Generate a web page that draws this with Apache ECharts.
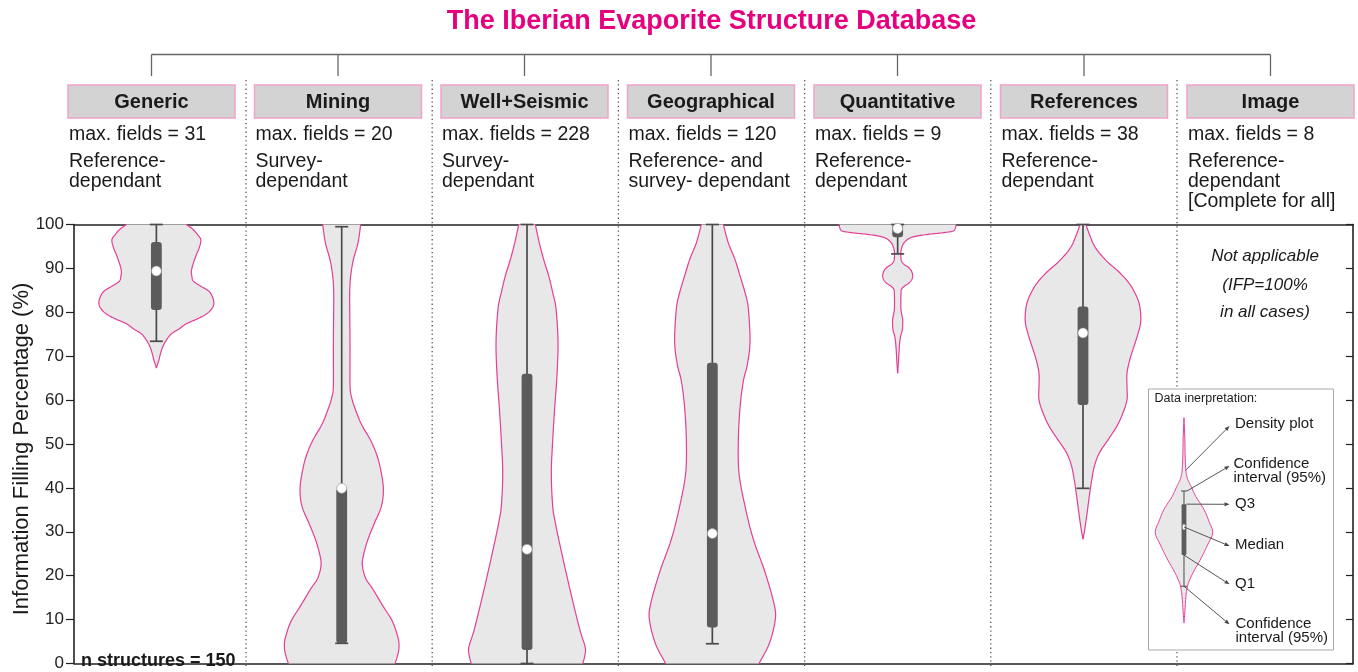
<!DOCTYPE html>
<html lang="en">
<head>
<meta charset="UTF-8" />
<title>The Iberian Evaporite Structure Database</title>
<script src="https://cdn.jsdelivr.net/npm/echarts@6/dist/echarts.min.js"></script>
<style>html,body{margin:0;padding:0;background:#fff}</style>
</head>
<body>
<div id="main" style="width:1358px;height:672px"></div>
<script>
// ---- data ----
const categories = ["Generic", "Mining", "Well+Seismic", "Geographical", "Quantitative", "References", "Image"];
const maxFields = [31, 20, 228, 120, 9, 38, 8];
const fieldNotes = [
  "Reference-\ndependant",
  "Survey-\ndependant",
  "Survey-\ndependant",
  "Reference- and\nsurvey- dependant",
  "Reference-\ndependant",
  "Reference-\ndependant",
  "Reference-\ndependant\n[Complete for all]"
];
const nStructures = 150;

// density profiles: [IFP value, half width (density units)]
const genericProfile = [[100,30],[98.8,37],[97.6,41.5],[96.5,44.5],[94.8,43],[93.1,40],[91.2,37],[89.4,35],[88.2,35.5],[87.1,37],[86,44],[84.9,52],[83.8,55.5],[82.3,57.5],[81,56],[79.6,50],[78.5,41],[77.4,30],[76.2,22.7],[75.1,15],[73.5,9.5],[72.1,6.3],[70.5,4],[69.1,2.5],[68.2,1.2],[67.3,0]];
const miningProfile = [[100,19],[95.8,16.3],[92,11.7],[88.3,9],[84.5,8],[79,8.1],[73.3,8.3],[68,8.3],[62.8,8.4],[60.5,10],[58.3,13],[54.5,19.7],[50.8,29],[47.1,35.7],[43.3,39.7],[39.5,41.7],[35.8,39.7],[32.1,33],[28.3,26.3],[24.6,21.7],[22.3,20.7],[19.4,24],[17.1,30.7],[13.3,40.7],[9.6,50.7],[5.9,56.3],[3.6,57.3],[1.5,55.5],[0,53.3]];
const wellProfile = [[100,8.3],[95.8,12.3],[92,16.7],[88.3,21.7],[84.5,25.7],[80.8,29],[73.3,31],[65.8,30],[58.3,27.7],[50.8,25.7],[43.3,24.3],[35.8,25.7],[32.1,28.3],[28.3,31.7],[20.8,39],[13.3,46.7],[7.3,53.3],[3.6,58.3],[1.5,57.5],[0,55.7]];
const geoProfile = [[100,11],[95.8,16],[92,22.7],[88.3,27.7],[84.5,32.7],[80.8,36],[73.3,37.7],[68.1,35],[64.3,31],[58.3,27.7],[50.8,26],[43.3,26.7],[35.8,32.7],[28.3,41],[20.8,52.7],[13.3,62],[9.6,62.7],[4.4,56.7],[0,46.7]];
const quantProfile = [[100,58.5],[99,57.5],[98.5,55],[98.1,45],[97.8,32],[97.4,20],[96.9,12],[96.1,7.5],[95.3,5],[93.9,3.3],[92.4,3.3],[91.6,4],[90.9,6.5],[90.2,11],[89.3,14],[88.3,15],[87.4,14],[86.6,11],[86,7],[85.3,4],[84.3,3.3],[81,3.2],[79.6,4],[78.4,5],[76.8,5],[75.6,4.3],[74.4,2.8],[72.5,1.8],[70,1.1],[68,0.6],[66.1,0]];
const refProfile = [[100,3],[97.6,6.7],[94.6,12.8],[91.6,24],[89.4,35],[87.1,44.5],[84.9,50.8],[81.9,56.3],[78.1,57.8],[75.1,55],[72.1,50.8],[69.1,46.7],[66.1,44],[63.2,44],[60.1,44],[57.1,40],[54.1,34],[51.1,25.5],[48.1,16.7],[45.2,11.7],[42.2,9],[38.4,6.5],[34.6,4.3],[30.9,2],[28.3,0]];
const profiles = [genericProfile, miningProfile, wellProfile, geoProfile, quantProfile, refProfile];

// box plot statistics per category (Image has none)
const whiskerLow  = [73.4, 4.6, 0,    4.5, 93.3, 39.9];
const q1          = [80.5, 4.6, 3.1,  8.2, 97.1, 58.9];
const median      = [89.4, 39.9, 26.0, 29.6, 99.1, 75.3];
const q3          = [96.0, 39.9, 66.0, 68.5, 100, 81.3];
const whiskerHigh = [100, 99.5, 100, 100, 100, 100];

// the small example violin in the "Data inerpretation" box
const legendProfile = [[56,0],[51.5,0.8],[47,1.2],[44.1,1.8],[42.1,3.5],[40.3,7.2],[38,12],[35.1,20],[32.4,25],[29.8,28.7],[27.2,24],[23.8,16.7],[21.1,10],[18.5,4.7],[16.4,2.5],[14,1.5],[11.5,0.8],[9.2,0]];
const legendStats = [17.6, 24.7, 31.1, 36.3, 39.3]; // low, Q1, median, Q3, high

// ---- drawing ----
const FONT = '"Liberation Sans", Arial, sans-serif';
const PINK = '#e6007e';
const VIOLIN_FILL = '#e8e8e8';
const VIOLIN_LINE = '#e43e97';
const BOX_COLOR = '#5b5b5b';
const DENSITY_TO_X = 1 / 185.36;
const LEGEND_X = 5.545;

function catmull(pts) {
  const out = [];
  const n = pts.length;
  for (let k = 0; k < n - 1; k++) {
    const p0 = pts[Math.max(k - 1, 0)], p1 = pts[k], p2 = pts[k + 1], p3 = pts[Math.min(k + 2, n - 1)];
    for (let s = 0; s < 8; s++) {
      const t = s / 8, t2 = t * t, t3 = t2 * t;
      const f = (a, b, c, d) => 0.5 * (2 * b + (-a + c) * t + (2 * a - 5 * b + 4 * c - d) * t2 + (-a + 3 * b - 3 * c + d) * t3);
      out.push([f(p0[0], p1[0], p2[0], p3[0]), f(p0[1], p1[1], p2[1], p3[1])]);
    }
  }
  out.push(pts[n - 1]);
  return out;
}

function violinEls(api, x, profile, lw) {
  const left = catmull(profile.map(p => api.coord([x - p[1] * DENSITY_TO_X, p[0]])));
  const right = catmull(profile.map(p => api.coord([x + p[1] * DENSITY_TO_X, p[0]])));
  return [
    { type: 'polygon', shape: { points: left.concat(right.slice().reverse()) }, style: { fill: VIOLIN_FILL } },
    { type: 'polyline', shape: { points: left }, style: { fill: null, stroke: VIOLIN_LINE, lineWidth: lw } },
    { type: 'polyline', shape: { points: right }, style: { fill: null, stroke: VIOLIN_LINE, lineWidth: lw } }
  ];
}

function boxEls(api, x, s, o) {
  const lo = api.coord([x, s[0]]), b1 = api.coord([x, s[1]]), md = api.coord([x, s[2]]),
        b3 = api.coord([x, s[3]]), hi = api.coord([x, s[4]]);
  const cx = lo[0];
  return [
    { type: 'line', shape: { x1: cx, y1: lo[1], x2: cx, y2: hi[1] }, style: { stroke: '#4a4a4a', lineWidth: o.whisker } },
    { type: 'line', shape: { x1: cx - o.cap, y1: lo[1], x2: cx + o.cap, y2: lo[1] }, style: { stroke: '#4a4a4a', lineWidth: o.whisker } },
    { type: 'line', shape: { x1: cx - o.cap, y1: hi[1], x2: cx + o.cap, y2: hi[1] }, style: { stroke: '#4a4a4a', lineWidth: o.whisker } },
    { type: 'rect', shape: { x: cx - o.box, y: b3[1], width: o.box * 2, height: b1[1] - b3[1], r: o.r }, style: { fill: BOX_COLOR } },
    { type: 'ellipse', shape: { cx: cx, cy: md[1], rx: o.mx, ry: o.my }, style: { fill: '#fff', stroke: '#8a8a8a', lineWidth: 0.6 } }
  ];
}

const chart = echarts.init(document.getElementById('main'));

chart.setOption({
  animation: false,
  grid: { left: 74, right: 5, top: 224.5, bottom: 3 },
  xAxis: [
    { type: 'value', min: -0.4445, max: 6.457, position: 'bottom',
      axisLine: { show: true, onZero: false, lineStyle: { color: '#222', width: 1.6 } },
      axisTick: { show: false }, axisLabel: { show: false }, splitLine: { show: false } },
    { type: 'value', min: -0.4445, max: 6.457, position: 'top',
      axisLine: { show: true, onZero: false, lineStyle: { color: '#222', width: 1.6 } },
      axisTick: { show: false }, axisLabel: { show: false }, splitLine: { show: false } }
  ],
  yAxis: [
    { type: 'value', min: 0, max: 100, interval: 10, position: 'left',
      axisLine: { show: true, onZero: false, lineStyle: { color: '#222', width: 1.6 } },
      axisTick: { show: true, length: 8, lineStyle: { color: '#222', width: 1.2 } },
      axisLabel: { fontSize: 17, color: '#222', margin: 10, fontFamily: FONT },
      splitLine: { show: false } },
    { type: 'value', min: 0, max: 100, interval: 10, position: 'right',
      axisLine: { show: true, onZero: false, lineStyle: { color: '#222', width: 1.6 } },
      axisTick: { show: true, inside: true, length: 7, lineStyle: { color: '#222', width: 1.2 } },
      axisLabel: { show: false }, splitLine: { show: false } }
  ],
  series: [
    {
      type: 'custom',
      name: 'IFP',
      z: 3,
      data: profiles.map((p, i) => [i, median[i]]),
      renderItem: function (params, api) {
        const i = api.value(0);
        const stats = [whiskerLow[i], q1[i], median[i], q3[i], whiskerHigh[i]];
        return {
          type: 'group',
          children: violinEls(api, i, profiles[i], 1.2).concat(
            boxEls(api, i, stats, { whisker: 1.7, cap: 6.5, box: 5.4, r: 3, mx: 5, my: 5 }))
        };
      }
    },
    {
      type: 'custom',
      name: 'legend example',
      z: 5,
      data: [[LEGEND_X, legendStats[2]]],
      renderItem: function (params, api) {
        return {
          type: 'group',
          children: violinEls(api, LEGEND_X, legendProfile, 1).concat(
            boxEls(api, LEGEND_X, legendStats, { whisker: 1, cap: 3, box: 2.4, r: 1, mx: 1.6, my: 3 }))
        };
      }
    }
  ]
});

// ---- layout graphics (headers, separators, legend box) ----
function T(x, y, text, o) {
  return {
    type: 'text', x: x, y: y, rotation: o.rotation || 0, z: o.z || 10,
    style: {
      text: text, fill: o.fill || '#1a1a1a', fontFamily: FONT,
      fontSize: o.size, fontWeight: o.weight || 'normal', fontStyle: o.style || 'normal',
      align: o.align || 'left', verticalAlign: o.va || 'middle', lineHeight: o.lh || o.size * 1.2
    }
  };
}

function arrowEls(from, to) {
  const dx = to[0] - from[0], dy = to[1] - from[1], len = Math.hypot(dx, dy);
  const ux = dx / len, uy = dy / len, head = 5, half = 2;
  const base = [to[0] - ux * head, to[1] - uy * head];
  return [
    { type: 'line', z: 12, shape: { x1: from[0], y1: from[1], x2: base[0], y2: base[1] }, style: { stroke: '#444', lineWidth: 0.9 } },
    { type: 'polygon', z: 12, shape: { points: [to, [base[0] - uy * half, base[1] + ux * half], [base[0] + uy * half, base[1] - ux * half]] }, style: { fill: '#444' } }
  ];
}

const g = [];
const headerLeft = i => 68 + 186.5 * i;
const headerW = 167;

// title
g.push(T(711.5, 22, 'The Iberian Evaporite Structure Database', { size: 27, weight: 'bold', fill: PINK, align: 'center' }));

// tree connector
g.push({ type: 'line', z: 5, shape: { x1: headerLeft(0) + headerW / 2, y1: 54.5, x2: headerLeft(6) + headerW / 2, y2: 54.5 }, style: { stroke: '#666', lineWidth: 1.3 } });

categories.forEach((c, i) => {
  const l = headerLeft(i), cx = l + headerW / 2;
  g.push({ type: 'line', z: 5, shape: { x1: cx, y1: 54.5, x2: cx, y2: 76 }, style: { stroke: '#666', lineWidth: 1.3 } });
  g.push({ type: 'rect', z: 5, shape: { x: l, y: 85, width: headerW, height: 33 }, style: { fill: '#d3d3d3', stroke: '#f2a3ca', lineWidth: 1.5 } });
  g.push(T(cx, 102, c, { size: 20, weight: 'bold', align: 'center' }));
  g.push(T(l + 1, 135, 'max. fields = ' + maxFields[i], { size: 19.5 }));
  g.push(T(l + 1, 152, fieldNotes[i], { size: 19.5, va: 'top', lh: 20 }));
});

// dotted separators
for (let i = 0; i < 6; i++) {
  const x = 246 + 186.2 * i;
  g.push({ type: 'line', z: 1, shape: { x1: x, y1: 80, x2: x, y2: 668 }, style: { stroke: '#555', lineWidth: 1.3, lineDash: [1.3, 3] } });
}

// y axis title
g.push(T(22, 449, 'Information Filling Percentage (%)', { size: 22, align: 'center', rotation: Math.PI / 2 }));
g.push(T(81, 661.5, 'n structures = ' + nStructures, { size: 18, weight: 'bold' }));

// Image column note
g.push(T(1265, 256, 'Not applicable', { size: 17, style: 'italic', align: 'center' }));
g.push(T(1265, 285, '(IFP=100%', { size: 17, style: 'italic', align: 'center' }));
g.push(T(1265, 312.5, 'in all cases)', { size: 17, style: 'italic', align: 'center' }));

// legend box
g.push({ type: 'rect', z: 2, shape: { x: 1148.5, y: 389, width: 185, height: 261 }, style: { fill: '#fff', stroke: '#aaa', lineWidth: 1 } });
g.push(T(1154.5, 398.5, 'Data inerpretation:', { size: 12.5 }));

const P = v => chart.convertToPixel({ xAxisIndex: 0, yAxisIndex: 0 }, [LEGEND_X, v]);
const lcx = P(0)[0];
const labels = [
  { text: 'Density plot', x: 1235, y: 423.5, from: [lcx + 2, P(44.1)[1]], to: [1229.5, 426] },
  { text: 'Confidence\ninterval (95%)', x: 1233.5, y: 457.3, va: 'top', from: [lcx + 3, P(legendStats[4])[1]], to: [1229.5, 466] },
  { text: 'Q3', x: 1235, y: 504, from: [lcx + 2.4, P(legendStats[3])[1]], to: [1229.5, 504.3] },
  { text: 'Median', x: 1235, y: 545, from: [lcx, P(legendStats[2])[1]], to: [1229.5, 546] },
  { text: 'Q1', x: 1235, y: 584, from: [lcx, P(legendStats[1])[1]], to: [1229.5, 584.3] },
  { text: 'Confidence\ninterval (95%)', x: 1235.5, y: 617, va: 'top', from: [lcx, P(legendStats[0])[1]], to: [1229.5, 624.3] }
];
labels.forEach(d => {
  g.push(T(d.x, d.y, d.text, { size: 15, va: d.va || 'middle', lh: 14 }));
  arrowEls(d.from, d.to).forEach(e => g.push(e));
});

chart.setOption({ graphic: g });
</script>
</body>
</html>
